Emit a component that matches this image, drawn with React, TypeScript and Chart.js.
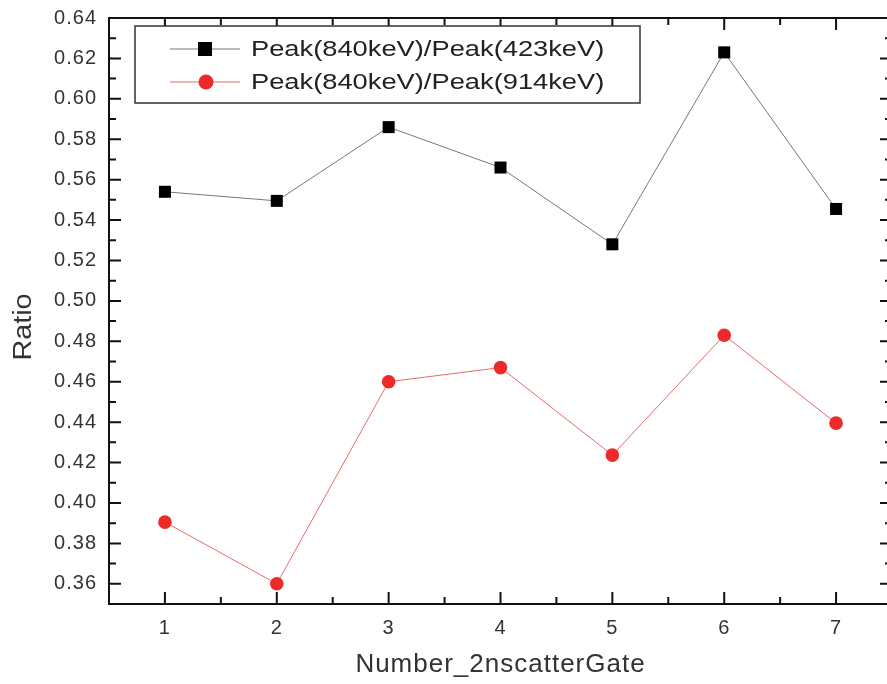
import React, { useEffect, useRef } from 'react';
import { Chart, registerables } from 'chart.js';

Chart.register(...registerables);

const categories = [1, 2, 3, 4, 5, 6, 7];
const ratio423 = [0.554, 0.5495, 0.586, 0.566, 0.528, 0.623, 0.5455];
const ratio914 = [0.3905, 0.360, 0.460, 0.467, 0.4237, 0.483, 0.4395];
const yTickValues = [0.36, 0.38, 0.40, 0.42, 0.44, 0.46, 0.48, 0.50, 0.52, 0.54, 0.56, 0.58, 0.60, 0.62, 0.64];
const xMinorTicks = [1.5, 2.5, 3.5, 4.5, 5.5, 6.5];
const yMinorTicks = [0.37, 0.39, 0.41, 0.43, 0.45, 0.47, 0.49, 0.51, 0.53, 0.55, 0.57, 0.59, 0.61, 0.63];
const seriesNames = ['Peak(840keV)/Peak(423keV)', 'Peak(840keV)/Peak(914keV)'];
const xTitle = 'Number_2nscatterGate';
const yTitle = 'Ratio';

const FONT = "'Liberation Sans', Arial, sans-serif";

const framePlugin = {
  id: 'frameTicks',
  beforeDraw(chart: any) {
    chart.ctx.letterSpacing = '1px';
  },
  afterDatasetsDraw(chart: any) {
    const { ctx, chartArea: ca, scales } = chart;
    const xs = scales.x, ys = scales.y;
    ctx.save();
    ctx.strokeStyle = '#111';
    ctx.lineWidth = 2;
    ctx.beginPath();
    ctx.rect(ca.left, ca.top, ca.right - ca.left, ca.bottom - ca.top);
    ctx.stroke();
    ctx.lineWidth = 2;
    ctx.beginPath();
    const major = 12, minor = 7;
    categories.forEach((v) => {
      const px = xs.getPixelForValue(v);
      ctx.moveTo(px, ca.bottom); ctx.lineTo(px, ca.bottom - major);
      ctx.moveTo(px, ca.top); ctx.lineTo(px, ca.top + major);
    });
    xMinorTicks.forEach((v) => {
      const px = xs.getPixelForValue(v);
      ctx.moveTo(px, ca.bottom); ctx.lineTo(px, ca.bottom - minor);
      ctx.moveTo(px, ca.top); ctx.lineTo(px, ca.top + minor);
    });
    yTickValues.forEach((v) => {
      const py = ys.getPixelForValue(v);
      ctx.moveTo(ca.left, py); ctx.lineTo(ca.left + major, py);
      ctx.moveTo(ca.right, py); ctx.lineTo(ca.right - major, py);
    });
    yMinorTicks.forEach((v) => {
      const py = ys.getPixelForValue(v);
      ctx.moveTo(ca.left, py); ctx.lineTo(ca.left + minor, py);
      ctx.moveTo(ca.right, py); ctx.lineTo(ca.right - minor, py);
    });
    ctx.stroke();
    ctx.restore();
  },
  afterDraw(chart: any) {
    const { ctx } = chart;
    const ds = chart.data.datasets;
    ctx.save();
    ctx.letterSpacing = '0px';
    // y-axis title
    ctx.save();
    ctx.translate(24, 327);
    ctx.rotate(-Math.PI / 2);
    ctx.scale(1.15, 1);
    ctx.fillStyle = '#333';
    ctx.font = `25px ${FONT}`;
    ctx.textAlign = 'center';
    ctx.textBaseline = 'middle';
    ctx.fillText(yTitle, 0, 0);
    ctx.restore();
    // legend
    const bx = 135, by = 26, bw = 505, bh = 77;
    ctx.fillStyle = '#fff';
    ctx.fillRect(bx, by, bw, bh);
    ctx.strokeStyle = '#333';
    ctx.lineWidth = 1.5;
    ctx.strokeRect(bx, by, bw, bh);
    const rows = [49, 82];
    ds.forEach((d: any, i: number) => {
      const y = rows[i];
      ctx.strokeStyle = d.borderColor;
      ctx.lineWidth = 1;
      ctx.beginPath();
      ctx.moveTo(170, y);
      ctx.lineTo(240, y);
      ctx.stroke();
      ctx.fillStyle = d.pointBackgroundColor;
      ctx.beginPath();
      if (d.pointStyle === 'rect') {
        ctx.rect(205 - 7, y - 7, 14, 14);
      } else {
        ctx.arc(206, y, 7.5, 0, Math.PI * 2);
      }
      ctx.fill();
      ctx.save();
      ctx.translate(251, y);
      ctx.scale(1.24, 1);
      ctx.fillStyle = '#222';
      ctx.font = `22px ${FONT}`;
      ctx.textBaseline = 'middle';
      ctx.textAlign = 'left';
      ctx.fillText(d.label, 0, 1);
      ctx.restore();
    });
    ctx.restore();
  },
};

export default function App() {
  const ref = useRef<HTMLCanvasElement | null>(null);
  useEffect(() => {
    document.body.style.margin = '0';
    const canvas = ref.current;
    if (!canvas) return;
    const chart = new Chart(canvas, {
      type: 'line',
      data: {
        datasets: [
          {
            label: seriesNames[0],
            data: categories.map((c, i) => ({ x: c, y: ratio423[i] })),
            borderColor: '#777',
            borderWidth: 1,
            pointStyle: 'rect',
            pointRadius: 8.5,
            pointBackgroundColor: '#000',
            pointBorderColor: '#000',
            pointBorderWidth: 0,
            tension: 0,
          },
          {
            label: seriesNames[1],
            data: categories.map((c, i) => ({ x: c, y: ratio914[i] })),
            borderColor: '#e86a6a',
            borderWidth: 1,
            pointStyle: 'circle',
            pointRadius: 6.8,
            pointBackgroundColor: '#ec2a2a',
            pointBorderColor: '#ec2a2a',
            pointBorderWidth: 0,
            tension: 0,
          },
        ],
      },
      options: {
        animation: false,
        responsive: false,
        maintainAspectRatio: false,
        devicePixelRatio: 1,
        layout: { autoPadding: false, padding: { top: 18, right: 0, left: 0, bottom: 0 } },
        plugins: { legend: { display: false }, tooltip: { enabled: false } },
        scales: {
          x: {
            type: 'linear',
            min: 0.5,
            max: 7.5,
            grid: { display: false, drawTicks: false },
            border: { display: false },
            afterBuildTicks: (s: any) => { s.ticks = categories.map((v) => ({ value: v })); },
            afterFit: (s: any) => { s.height = 80; s.paddingLeft = 0; s.paddingRight = 0; },
            ticks: {
              padding: 12,
              color: '#333',
              font: { family: FONT, size: 20 },
              callback: (v: any) => String(v),
            },
            title: {
              display: true,
              text: xTitle,
              color: '#333',
              font: { family: FONT, size: 26 },
              padding: { top: 0, bottom: 4 },
            },
          },
          y: {
            type: 'linear',
            min: 0.35,
            max: 0.64,
            grid: { display: false, drawTicks: false },
            border: { display: false },
            afterBuildTicks: (s: any) => { s.ticks = yTickValues.map((v) => ({ value: v })); },
            afterFit: (s: any) => { s.width = 109; s.paddingTop = 0; s.paddingBottom = 0; },
            ticks: {
              padding: 12,
              color: '#333',
              font: { family: FONT, size: 20 },
              callback: (v: any) => Number(v).toFixed(2),
            },
            title: { display: false },
          },
        },
      },
      plugins: [framePlugin],
    } as any);
    return () => chart.destroy();
  }, []);
  return (
    <div style={{ width: '887px', height: '684px', overflow: 'hidden' }}>
      <canvas ref={ref} width={892} height={684} style={{ display: 'block' }} />
    </div>
  );
}
